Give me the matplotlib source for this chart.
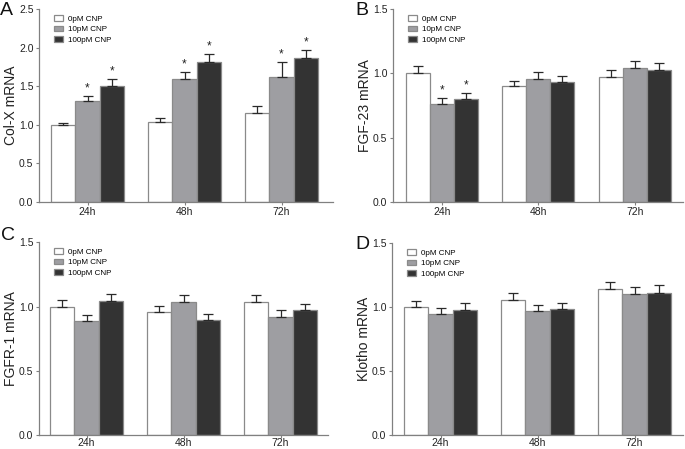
import matplotlib
matplotlib.use("Agg")
import matplotlib.pyplot as plt
import numpy as np

plt.rcParams['font.family'] = ['Liberation Sans', 'DejaVu Sans']

times = ["24h", "48h", "72h"]
series = ["0pM CNP", "10pM CNP", "100pM CNP"]
colors = ["#ffffff", "#9e9ea2", "#333333"]

colx_mean = [[1.00, 1.03, 1.15], [1.31, 1.59, 1.62], [1.50, 1.82, 1.87]]
colx_err = [[0.02, 0.06, 0.09], [0.06, 0.10, 0.20], [0.09, 0.10, 0.10]]
colx_sig = [[False, False, False], [True, True, True], [True, True, True]]

fgf23_mean = [[1.00, 0.90, 0.975], [0.765, 0.955, 1.045], [0.80, 0.93, 1.025]]
fgf23_err = [[0.055, 0.045, 0.052], [0.04, 0.055, 0.052], [0.045, 0.053, 0.055]]
fgf23_sig = [[False, False, False], [True, False, False], [True, False, False]]

fgfr1_mean = [[1.00, 0.955, 1.035], [0.89, 1.035, 0.92], [1.045, 0.895, 0.97]]
fgfr1_err = [[0.052, 0.052, 0.056], [0.048, 0.053, 0.05], [0.052, 0.05, 0.052]]
fgfr1_sig = [[False] * 3] * 3

klotho_mean = [[1.00, 1.06, 1.14], [0.945, 0.97, 1.10], [0.98, 0.985, 1.115]]
klotho_err = [[0.052, 0.055, 0.056], [0.052, 0.05, 0.057], [0.05, 0.052, 0.058]]
klotho_sig = [[False] * 3] * 3

panels = [
    dict(letter="A", ylabel="Col-X mRNA", mean=colx_mean, err=colx_err, sig=colx_sig,
         ylim=2.5, yticks=[0.0, 0.5, 1.0, 1.5, 2.0, 2.5], xlim=(-0.5, 2.53),
         rect=[0.057, 0.551, 0.429, 0.428], lx=-0.088, ly=0.996, xpad=2.0),
    dict(letter="B", ylabel="FGF-23 mRNA", mean=fgf23_mean, err=fgf23_err, sig=fgf23_sig,
         ylim=1.5, yticks=[0.0, 0.5, 1.0, 1.5], xlim=(-0.505, 2.5),
         rect=[0.5737, 0.551, 0.4233, 0.428], lx=-0.086, ly=0.996, xpad=2.0),
    dict(letter="C", ylabel="FGFR-1 mRNA", mean=fgfr1_mean, err=fgfr1_err, sig=fgfr1_sig,
         ylim=1.5, yticks=[0.0, 0.5, 1.0, 1.5], xlim=(-0.49, 2.49),
         rect=[0.057, 0.031, 0.422, 0.4294], lx=-0.083, ly=1.035, xpad=0.3),
    dict(letter="D", ylabel="Klotho mRNA", mean=klotho_mean, err=klotho_err, sig=klotho_sig,
         ylim=1.5, yticks=[0.0, 0.5, 1.0, 1.5], xlim=(-0.5, 2.5),
         rect=[0.5723, 0.0312, 0.4248, 0.4268], lx=-0.076, ly=0.996, xpad=0.3),
]

fig = plt.figure(figsize=(6.85, 4.49), dpi=100)
axis_col = "#808080"
edge_col = "#8a8a8a"
w = 0.25
x = np.arange(len(times))

for p in panels:
    ax = fig.add_axes(p["rect"])
    for i, s in enumerate(series):
        pos = x + (i - 1) * w
        ax.bar(pos, p["mean"][i], width=w, color=colors[i], edgecolor=edge_col,
               linewidth=0.9, label=s, zorder=2)
        ax.errorbar(pos, p["mean"][i], yerr=[np.zeros(3), p["err"][i]], fmt="none",
                    ecolor="#2a2a2a", elinewidth=0.9, capsize=3.4, capthick=0.9, zorder=3)
        for j in range(3):
            if p["sig"][i][j]:
                ax.text(pos[j], p["mean"][i][j] + p["err"][i][j] + p["ylim"] * 0.008, "*",
                        ha="center", va="bottom", fontsize=8.5, color="#222222")
    ax.set_ylim(0, p["ylim"])
    ax.set_xlim(*p["xlim"])
    ax.set_yticks(p["yticks"])
    ax.set_yticklabels([f"{t:.1f}" for t in p["yticks"]])
    ax.set_xticks(x)
    ax.set_xticklabels(times)
    for sp in ["top", "right"]:
        ax.spines[sp].set_visible(False)
    for sp in ["left", "bottom"]:
        ax.spines[sp].set_color(axis_col)
        ax.spines[sp].set_linewidth(0.9)
    ax.tick_params(axis="y", colors=axis_col, labelcolor="#222222", labelsize=7.5,
                   length=2.5, width=0.8, pad=1.5)
    ax.tick_params(axis="x", colors=axis_col, labelcolor="#222222", labelsize=7.5,
                   length=2.0, width=0.8, pad=p["xpad"])
    ax.set_ylabel(p["ylabel"], fontsize=10, color="#222222", labelpad=1)
    ax.text(p["lx"], p["ly"], p["letter"], transform=ax.transAxes, fontsize=14,
            ha="right", va="center", color="#111111")
    ax.legend(loc="upper left", bbox_to_anchor=(0.033, 1.0), frameon=False, fontsize=5.8,
              handlelength=1.1, handleheight=0.7, labelspacing=0.38, borderpad=0.2,
              handletextpad=0.6)

fig.savefig("out.png", dpi=100)
